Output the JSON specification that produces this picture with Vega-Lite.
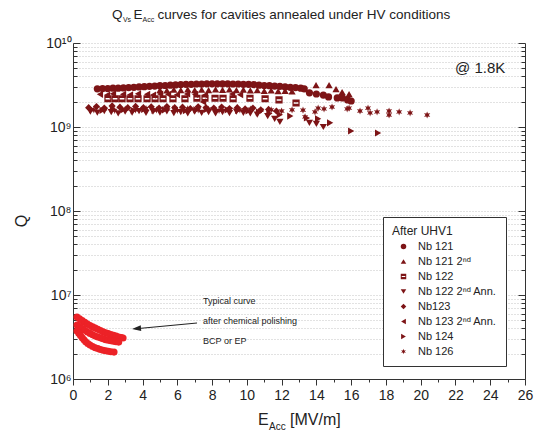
{
  "$schema": "https://vega.github.io/schema/vega-lite/v6.json",
  "width": 452,
  "height": 336,
  "autosize": {"type": "none"},
  "padding": {"left": 73, "top": 43, "right": 9, "bottom": 53},
  "background": "white",
  "config": {
    "view": {"stroke": null},
    "font": "Liberation Sans",
    "axis": {"domainColor": "#333", "tickColor": "#333", "labelColor": "#222", "labelFont": "Liberation Sans", "labelFontSize": 14, "gridColor": "#c4c4c4", "gridDash": [1, 2]}
  },
  "datasets": {
    "cav": [
      {"s":"Nb 121","E":1.4,"Q":2.85e9},{"s":"Nb 121","E":1.7,"Q":2.87e9},{"s":"Nb 121","E":2.0,"Q":2.87e9},{"s":"Nb 121","E":2.3,"Q":2.9e9},{"s":"Nb 121","E":2.6,"Q":2.9e9},{"s":"Nb 121","E":2.9,"Q":2.92e9},{"s":"Nb 121","E":3.2,"Q":2.95e9},{"s":"Nb 121","E":3.5,"Q":2.97e9},{"s":"Nb 121","E":3.8,"Q":3.0e9},{"s":"Nb 121","E":4.1,"Q":3.02e9},{"s":"Nb 121","E":4.4,"Q":3.05e9},{"s":"Nb 121","E":4.7,"Q":3.07e9},{"s":"Nb 121","E":5.0,"Q":3.1e9},{"s":"Nb 121","E":5.3,"Q":3.12e9},{"s":"Nb 121","E":5.6,"Q":3.15e9},{"s":"Nb 121","E":5.9,"Q":3.17e9},{"s":"Nb 121","E":6.2,"Q":3.2e9},{"s":"Nb 121","E":6.5,"Q":3.22e9},{"s":"Nb 121","E":6.8,"Q":3.22e9},{"s":"Nb 121","E":7.1,"Q":3.25e9},{"s":"Nb 121","E":7.4,"Q":3.25e9},{"s":"Nb 121","E":7.7,"Q":3.27e9},{"s":"Nb 121","E":8.0,"Q":3.27e9},{"s":"Nb 121","E":8.3,"Q":3.27e9},{"s":"Nb 121","E":8.6,"Q":3.27e9},{"s":"Nb 121","E":8.9,"Q":3.27e9},{"s":"Nb 121","E":9.2,"Q":3.25e9},{"s":"Nb 121","E":9.5,"Q":3.25e9},{"s":"Nb 121","E":9.8,"Q":3.22e9},{"s":"Nb 121","E":10.1,"Q":3.22e9},{"s":"Nb 121","E":10.4,"Q":3.2e9},{"s":"Nb 121","E":10.7,"Q":3.15e9},{"s":"Nb 121","E":11.0,"Q":3.12e9},{"s":"Nb 121","E":11.3,"Q":3.1e9},{"s":"Nb 121","E":11.6,"Q":3.07e9},{"s":"Nb 121","E":11.9,"Q":3.05e9},{"s":"Nb 121","E":12.2,"Q":3.0e9},{"s":"Nb 121","E":12.5,"Q":2.97e9},{"s":"Nb 121","E":12.8,"Q":2.95e9},{"s":"Nb 121","E":13.1,"Q":2.9e9},{"s":"Nb 121","E":13.3,"Q":2.85e9},{"s":"Nb 121","E":13.6,"Q":2.55e9},{"s":"Nb 121","E":14.0,"Q":2.47e9},{"s":"Nb 121","E":14.4,"Q":2.4e9},{"s":"Nb 121","E":14.7,"Q":2.28e9},{"s":"Nb 121","E":15.2,"Q":2.22e9},{"s":"Nb 121","E":15.5,"Q":2.22e9},{"s":"Nb 121","E":15.8,"Q":2.1e9},{"s":"Nb 121","E":16.0,"Q":2.04e9},
      {"s":"Nb 121 2nd","E":5.0,"Q":2.75e9},{"s":"Nb 121 2nd","E":5.4,"Q":2.72e9},{"s":"Nb 121 2nd","E":5.8,"Q":2.78e9},{"s":"Nb 121 2nd","E":6.2,"Q":2.75e9},{"s":"Nb 121 2nd","E":6.6,"Q":2.8e9},{"s":"Nb 121 2nd","E":7.0,"Q":2.75e9},{"s":"Nb 121 2nd","E":7.4,"Q":2.78e9},{"s":"Nb 121 2nd","E":7.8,"Q":2.74e9},{"s":"Nb 121 2nd","E":8.2,"Q":2.8e9},{"s":"Nb 121 2nd","E":8.6,"Q":2.76e9},{"s":"Nb 121 2nd","E":9.0,"Q":2.8e9},{"s":"Nb 121 2nd","E":9.4,"Q":2.75e9},{"s":"Nb 121 2nd","E":9.8,"Q":2.78e9},{"s":"Nb 121 2nd","E":10.2,"Q":2.72e9},{"s":"Nb 121 2nd","E":10.6,"Q":2.75e9},{"s":"Nb 121 2nd","E":11.0,"Q":2.7e9},{"s":"Nb 121 2nd","E":11.4,"Q":2.72e9},{"s":"Nb 121 2nd","E":11.8,"Q":2.68e9},{"s":"Nb 121 2nd","E":12.2,"Q":2.7e9},{"s":"Nb 121 2nd","E":12.6,"Q":2.65e9},{"s":"Nb 121 2nd","E":13.98,"Q":3.16e9},{"s":"Nb 121 2nd","E":14.73,"Q":3.16e9},{"s":"Nb 121 2nd","E":15.13,"Q":2.83e9},{"s":"Nb 121 2nd","E":15.48,"Q":2.61e9},{"s":"Nb 121 2nd","E":15.88,"Q":2.47e9},
      {"s":"Nb 122","E":2.01,"Q":2.17e9},{"s":"Nb 122","E":2.42,"Q":2.17e9},{"s":"Nb 122","E":2.82,"Q":2.17e9},{"s":"Nb 122","E":3.28,"Q":2.17e9},{"s":"Nb 122","E":3.74,"Q":2.17e9},{"s":"Nb 122","E":4.26,"Q":2.17e9},{"s":"Nb 122","E":4.72,"Q":2.17e9},{"s":"Nb 122","E":5.18,"Q":2.17e9},{"s":"Nb 122","E":5.75,"Q":2.17e9},{"s":"Nb 122","E":6.44,"Q":2.17e9},{"s":"Nb 122","E":7.13,"Q":2.2e9},{"s":"Nb 122","E":7.59,"Q":2.2e9},{"s":"Nb 122","E":8.17,"Q":2.2e9},{"s":"Nb 122","E":8.63,"Q":2.2e9},{"s":"Nb 122","E":9.21,"Q":2.17e9},{"s":"Nb 122","E":10.18,"Q":2.2e9},{"s":"Nb 122","E":11.05,"Q":2.17e9},{"s":"Nb 122","E":11.85,"Q":2.1e9},{"s":"Nb 122","E":12.83,"Q":1.93e9},
      {"s":"Nb 122 2nd Ann.","E":1.0,"Q":1.52e9},{"s":"Nb 122 2nd Ann.","E":1.4,"Q":1.48e9},{"s":"Nb 122 2nd Ann.","E":1.8,"Q":1.55e9},{"s":"Nb 122 2nd Ann.","E":2.2,"Q":1.5e9},{"s":"Nb 122 2nd Ann.","E":2.6,"Q":1.45e9},{"s":"Nb 122 2nd Ann.","E":3.0,"Q":1.52e9},{"s":"Nb 122 2nd Ann.","E":3.4,"Q":1.48e9},{"s":"Nb 122 2nd Ann.","E":3.8,"Q":1.55e9},{"s":"Nb 122 2nd Ann.","E":4.2,"Q":1.47e9},{"s":"Nb 122 2nd Ann.","E":4.6,"Q":1.52e9},{"s":"Nb 122 2nd Ann.","E":5.0,"Q":1.48e9},{"s":"Nb 122 2nd Ann.","E":5.4,"Q":1.53e9},{"s":"Nb 122 2nd Ann.","E":5.8,"Q":1.46e9},{"s":"Nb 122 2nd Ann.","E":6.2,"Q":1.5e9},{"s":"Nb 122 2nd Ann.","E":6.6,"Q":1.45e9},{"s":"Nb 122 2nd Ann.","E":7.0,"Q":1.52e9},{"s":"Nb 122 2nd Ann.","E":7.4,"Q":1.47e9},{"s":"Nb 122 2nd Ann.","E":7.8,"Q":1.5e9},{"s":"Nb 122 2nd Ann.","E":8.2,"Q":1.45e9},{"s":"Nb 122 2nd Ann.","E":8.6,"Q":1.5e9},{"s":"Nb 122 2nd Ann.","E":9.0,"Q":1.46e9},{"s":"Nb 122 2nd Ann.","E":9.4,"Q":1.52e9},{"s":"Nb 122 2nd Ann.","E":9.8,"Q":1.47e9},{"s":"Nb 122 2nd Ann.","E":10.2,"Q":1.45e9},{"s":"Nb 122 2nd Ann.","E":10.6,"Q":1.4e9},{"s":"Nb 122 2nd Ann.","E":11.2,"Q":1.35e9},{"s":"Nb 122 2nd Ann.","E":11.6,"Q":1.25e9},{"s":"Nb 122 2nd Ann.","E":11.9,"Q":1.15e9},{"s":"Nb 122 2nd Ann.","E":13.6,"Q":1.12e9},{"s":"Nb 122 2nd Ann.","E":14.0,"Q":1.09e9},{"s":"Nb 122 2nd Ann.","E":14.4,"Q":1.0e9},
      {"s":"Nb123","E":0.9,"Q":1.7e9},{"s":"Nb123","E":1.35,"Q":1.75e9},{"s":"Nb123","E":1.8,"Q":1.68e9},{"s":"Nb123","E":2.25,"Q":1.78e9},{"s":"Nb123","E":2.7,"Q":1.72e9},{"s":"Nb123","E":3.15,"Q":1.7e9},{"s":"Nb123","E":3.6,"Q":1.76e9},{"s":"Nb123","E":4.05,"Q":1.7e9},{"s":"Nb123","E":4.5,"Q":1.74e9},{"s":"Nb123","E":4.95,"Q":1.68e9},{"s":"Nb123","E":5.4,"Q":1.75e9},{"s":"Nb123","E":5.85,"Q":1.7e9},{"s":"Nb123","E":6.3,"Q":1.72e9},{"s":"Nb123","E":6.75,"Q":1.66e9},{"s":"Nb123","E":7.2,"Q":1.74e9},{"s":"Nb123","E":7.65,"Q":1.7e9},{"s":"Nb123","E":8.1,"Q":1.68e9},{"s":"Nb123","E":8.55,"Q":1.73e9},{"s":"Nb123","E":9.0,"Q":1.66e9},{"s":"Nb123","E":9.45,"Q":1.7e9},{"s":"Nb123","E":9.9,"Q":1.64e9},{"s":"Nb123","E":10.35,"Q":1.68e9},{"s":"Nb123","E":10.8,"Q":1.6e9},{"s":"Nb123","E":11.25,"Q":1.62e9},{"s":"Nb123","E":11.7,"Q":1.55e9},
      {"s":"Nb 123 2nd Ann.","E":1.55,"Q":2.45e9},{"s":"Nb 123 2nd Ann.","E":1.96,"Q":2.4e9},{"s":"Nb 123 2nd Ann.","E":2.3,"Q":2.48e9},{"s":"Nb 123 2nd Ann.","E":2.88,"Q":2.45e9},{"s":"Nb 123 2nd Ann.","E":3.28,"Q":2.42e9},{"s":"Nb 123 2nd Ann.","E":3.74,"Q":2.48e9},{"s":"Nb 123 2nd Ann.","E":4.26,"Q":2.45e9},{"s":"Nb 123 2nd Ann.","E":4.6,"Q":2.4e9},{"s":"Nb 123 2nd Ann.","E":5.01,"Q":2.47e9},{"s":"Nb 123 2nd Ann.","E":5.47,"Q":2.45e9},{"s":"Nb 123 2nd Ann.","E":5.98,"Q":2.42e9},{"s":"Nb 123 2nd Ann.","E":6.56,"Q":2.47e9},{"s":"Nb 123 2nd Ann.","E":7.02,"Q":2.45e9},{"s":"Nb 123 2nd Ann.","E":7.48,"Q":1.99e9},{"s":"Nb 123 2nd Ann.","E":7.59,"Q":2.4e9},{"s":"Nb 123 2nd Ann.","E":9.15,"Q":2.47e9},{"s":"Nb 123 2nd Ann.","E":9.61,"Q":2.42e9},
      {"s":"Nb 124","E":1.1,"Q":1.62e9},{"s":"Nb 124","E":1.7,"Q":1.58e9},{"s":"Nb 124","E":2.3,"Q":1.63e9},{"s":"Nb 124","E":2.9,"Q":1.6e9},{"s":"Nb 124","E":3.5,"Q":1.57e9},{"s":"Nb 124","E":4.1,"Q":1.62e9},{"s":"Nb 124","E":4.7,"Q":1.58e9},{"s":"Nb 124","E":5.3,"Q":1.6e9},{"s":"Nb 124","E":5.9,"Q":1.63e9},{"s":"Nb 124","E":6.5,"Q":1.57e9},{"s":"Nb 124","E":7.1,"Q":1.6e9},{"s":"Nb 124","E":7.7,"Q":1.62e9},{"s":"Nb 124","E":8.3,"Q":1.56e9},{"s":"Nb 124","E":8.9,"Q":1.6e9},{"s":"Nb 124","E":9.5,"Q":1.58e9},{"s":"Nb 124","E":10.1,"Q":1.55e9},{"s":"Nb 124","E":10.7,"Q":1.5e9},{"s":"Nb 124","E":11.3,"Q":1.45e9},{"s":"Nb 124","E":11.9,"Q":1.4e9},{"s":"Nb 124","E":12.5,"Q":1.35e9},{"s":"Nb 124","E":13.46,"Q":1.28e9},{"s":"Nb 124","E":14.1,"Q":1.25e9},{"s":"Nb 124","E":14.79,"Q":1.12e9},{"s":"Nb 124","E":16.0,"Q":8.96e8},{"s":"Nb 124","E":17.55,"Q":8.48e8},
      {"s":"Nb 126","E":1.2,"Q":1.6e9},{"s":"Nb 126","E":1.8,"Q":1.65e9},{"s":"Nb 126","E":2.4,"Q":1.58e9},{"s":"Nb 126","E":3.0,"Q":1.63e9},{"s":"Nb 126","E":3.6,"Q":1.6e9},{"s":"Nb 126","E":4.2,"Q":1.66e9},{"s":"Nb 126","E":4.8,"Q":1.6e9},{"s":"Nb 126","E":5.4,"Q":1.63e9},{"s":"Nb 126","E":6.0,"Q":1.58e9},{"s":"Nb 126","E":6.6,"Q":1.65e9},{"s":"Nb 126","E":7.2,"Q":1.6e9},{"s":"Nb 126","E":7.8,"Q":1.63e9},{"s":"Nb 126","E":8.4,"Q":1.58e9},{"s":"Nb 126","E":9.0,"Q":1.62e9},{"s":"Nb 126","E":9.6,"Q":1.6e9},{"s":"Nb 126","E":10.2,"Q":1.63e9},{"s":"Nb 126","E":10.8,"Q":1.58e9},{"s":"Nb 126","E":11.4,"Q":1.6e9},{"s":"Nb 126","E":12.0,"Q":1.55e9},{"s":"Nb 126","E":12.6,"Q":1.6e9},{"s":"Nb 126","E":13.23,"Q":1.59e9},{"s":"Nb 126","E":13.35,"Q":1.32e9},{"s":"Nb 126","E":13.92,"Q":1.51e9},{"s":"Nb 126","E":14.1,"Q":1.68e9},{"s":"Nb 126","E":14.44,"Q":1.64e9},{"s":"Nb 126","E":14.9,"Q":1.73e9},{"s":"Nb 126","E":15.77,"Q":1.64e9},{"s":"Nb 126","E":15.88,"Q":1.68e9},{"s":"Nb 126","E":16.51,"Q":1.55e9},{"s":"Nb 126","E":16.97,"Q":1.68e9},{"s":"Nb 126","E":17.09,"Q":1.47e9},{"s":"Nb 126","E":17.49,"Q":1.51e9},{"s":"Nb 126","E":18.18,"Q":1.55e9},{"s":"Nb 126","E":18.18,"Q":1.39e9},{"s":"Nb 126","E":18.76,"Q":1.51e9},{"s":"Nb 126","E":19.39,"Q":1.47e9},{"s":"Nb 126","E":20.37,"Q":1.39e9}
    ],
    "typ": [
      {"E":0.23,"Q":5.47e6},{"E":0.38,"Q":5.2e6},{"E":0.53,"Q":4.95e6},{"E":0.68,"Q":4.72e6},{"E":0.83,"Q":4.52e6},{"E":0.98,"Q":4.33e6},{"E":1.13,"Q":4.17e6},{"E":1.28,"Q":4.03e6},{"E":1.43,"Q":3.9e6},{"E":1.58,"Q":3.77e6},{"E":1.73,"Q":3.65e6},{"E":1.88,"Q":3.56e6},{"E":2.03,"Q":3.47e6},{"E":2.18,"Q":3.39e6},{"E":2.33,"Q":3.31e6},{"E":2.48,"Q":3.24e6},{"E":2.63,"Q":3.17e6},{"E":2.78,"Q":3.11e6},{"E":2.88,"Q":3.08e6},
      {"E":0.23,"Q":4.39e6},{"E":0.38,"Q":4.18e6},{"E":0.53,"Q":3.98e6},{"E":0.68,"Q":3.8e6},{"E":0.83,"Q":3.63e6},{"E":0.98,"Q":3.49e6},{"E":1.13,"Q":3.36e6},{"E":1.28,"Q":3.25e6},{"E":1.43,"Q":3.17e6},{"E":1.58,"Q":3.09e6},{"E":1.73,"Q":3.01e6},{"E":1.88,"Q":2.94e6},{"E":2.03,"Q":2.89e6},{"E":2.18,"Q":2.85e6},{"E":2.33,"Q":2.82e6},{"E":2.48,"Q":2.78e6},{"E":2.63,"Q":2.75e6},
      {"E":0.23,"Q":3.73e6},{"E":0.33,"Q":3.5e6},{"E":0.43,"Q":3.3e6},{"E":0.53,"Q":3.1e6},{"E":0.63,"Q":2.93e6},{"E":0.73,"Q":2.78e6},{"E":0.85,"Q":2.64e6},{"E":0.98,"Q":2.54e6},{"E":1.13,"Q":2.44e6},{"E":1.28,"Q":2.36e6},{"E":1.43,"Q":2.3e6},{"E":1.58,"Q":2.25e6},{"E":1.73,"Q":2.2e6},{"E":1.88,"Q":2.17e6},{"E":2.03,"Q":2.14e6},{"E":2.18,"Q":2.11e6},{"E":2.36,"Q":2.09e6}
    ]
  },
  "layer": [
    {
      "data": {"name": "cav"},
      "mark": {"type": "point", "filled": true, "opacity": 1, "size": 52, "color": "#7d1416"},
      "encoding": {
        "x": {"field": "E", "type": "quantitative", "scale": {"domain": [0, 26], "nice": false},
          "axis": {"orient": "bottom", "values": [0,1,2,3,4,5,6,7,8,9,10,11,12,13,14,15,16,17,18,19,20,21,22,23,24,25,26], "labelExpr": "datum.value % 2 == 0 ? datum.label : ''", "tickSize": {"condition": {"test": "datum.value % 2 == 0", "value": 6}, "value": 3}, "labelPadding": 3, "grid": false, "title": null, "labelFlush": false, "labelOverlap": false}},
        "y": {"field": "Q", "type": "quantitative", "scale": {"type": "log", "domain": [1e6, 1e10], "nice": false},
          "axis": {"orient": "left", "values": [1e6,2e6,3e6,4e6,5e6,6e6,7e6,8e6,9e6,1e7,2e7,3e7,4e7,5e7,6e7,7e7,8e7,9e7,1e8,2e8,3e8,4e8,5e8,6e8,7e8,8e8,9e8,1e9,2e9,3e9,4e9,5e9,6e9,7e9,8e9,9e9,1e10],
            "labelExpr": "abs(log(datum.value)/LN10 - round(log(datum.value)/LN10)) < 0.01 ? '10' + ['⁶','⁷','⁸','⁹','¹⁰'][round(log(datum.value)/LN10) - 6] : ''",
            "tickSize": {"condition": {"test": "abs(log(datum.value)/LN10 - round(log(datum.value)/LN10)) < 0.01", "value": -7}, "value": -4},
            "labelPadding": 9, "grid": true, "title": null, "labelOverlap": false, "labelFlush": false}},
        "shape": {"field": "s", "type": "nominal",
          "scale": {"domain": ["Nb 121", "Nb 121 2nd", "Nb 122", "Nb 122 2nd Ann.", "Nb123", "Nb 123 2nd Ann.", "Nb 124", "Nb 126"],
            "range": ["circle", "triangle-up", "M-1,-1H1V1H-1Z M-0.65,-0.22V0.22H0.65V-0.22Z", "triangle-down", "diamond", "triangle-left", "triangle-right", "M0,-1L0.225,-0.39L0.866,-0.5L0.45,0L0.866,0.5L0.225,0.39L0,1L-0.225,0.39L-0.866,0.5L-0.45,0L-0.866,-0.5L-0.225,-0.39Z"]},
          "legend": {"orient": "none", "legendX": 310, "legendY": 174, "title": "After UHV1", "titleFont": "Liberation Sans", "titleFontSize": 12, "titleFontWeight": "normal", "titleColor": "#222", "titlePadding": 3,
            "labelFont": "Liberation Sans", "labelFontSize": 11, "labelColor": "#222", "labelExpr": "replace(datum.label, '2nd', '2ⁿᵈ')",
            "strokeColor": "#333", "fillColor": "white", "padding": 9, "symbolSize": 30, "symbolFillColor": "#7d1416", "symbolStrokeColor": "#7d1416", "symbolStrokeWidth": 0, "rowPadding": 3, "symbolOffset": 6, "labelOffset": 9}}
      }
    },
    {
      "data": {"values": [{"Q": 1e6}, {"Q": 1e10}]},
      "mark": {"type": "point", "opacity": 0},
      "encoding": {
        "y": {"field": "Q", "type": "quantitative", "scale": {"type": "log", "domain": [1e6, 1e10], "nice": false},
          "axis": {"orient": "right", "values": [1e6,2e6,3e6,4e6,5e6,6e6,7e6,8e6,9e6,1e7,2e7,3e7,4e7,5e7,6e7,7e7,8e7,9e7,1e8,2e8,3e8,4e8,5e8,6e8,7e8,8e8,9e8,1e9,2e9,3e9,4e9,5e9,6e9,7e9,8e9,9e9,1e10],
            "labels": false, "title": null, "grid": false,
            "tickSize": {"condition": {"test": "abs(log(datum.value)/LN10 - round(log(datum.value)/LN10)) < 0.01", "value": -7}, "value": -4}}}
      }
    },
    {
      "data": {"name": "typ"},
      "mark": {"type": "circle", "size": 50, "opacity": 1, "color": "#ec2227"},
      "encoding": {
        "x": {"field": "E", "type": "quantitative", "scale": {"domain": [0, 26], "nice": false}, "axis": null},
        "y": {"field": "Q", "type": "quantitative", "scale": {"type": "log", "domain": [1e6, 1e10], "nice": false}, "axis": null}
      }
    },
    {
      "data": {"values": [{"E": 7.135, "Q": 4.64e6, "E2": 3.6, "Q2": 3.96e6}]},
      "mark": {"type": "rule", "color": "#222", "strokeWidth": 1},
      "encoding": {
        "x": {"field": "E", "type": "quantitative", "scale": {"domain": [0, 26], "nice": false}, "axis": null},
        "y": {"field": "Q", "type": "quantitative", "scale": {"type": "log", "domain": [1e6, 1e10], "nice": false}, "axis": null},
        "x2": {"field": "E2"},
        "y2": {"field": "Q2"}
      }
    },
    {
      "data": {"values": [{"E": 3.395, "Q": 3.94e6}]},
      "mark": {"type": "point", "shape": "M0,0L1,-0.32L1,0.32Z", "size": 324, "angle": 354.7, "filled": true, "opacity": 1, "color": "#222"},
      "encoding": {
        "x": {"field": "E", "type": "quantitative", "scale": {"domain": [0, 26], "nice": false}, "axis": null},
        "y": {"field": "Q", "type": "quantitative", "scale": {"type": "log", "domain": [1e6, 1e10], "nice": false}, "axis": null}
      }
    },
    {
      "data": {"values": [{"t": "Typical curve", "E": 7.48, "Q": 7.82e6}, {"t": "after chemical polishing", "E": 7.48, "Q": 4.52e6}, {"t": "BCP or EP", "E": 7.48, "Q": 2.61e6}]},
      "mark": {"type": "text", "align": "left", "baseline": "alphabetic", "fontSize": 9, "font": "Liberation Sans", "color": "#222"},
      "encoding": {
        "x": {"field": "E", "type": "quantitative", "scale": {"domain": [0, 26], "nice": false}, "axis": null},
        "y": {"field": "Q", "type": "quantitative", "scale": {"type": "log", "domain": [1e6, 1e10], "nice": false}, "axis": null},
        "text": {"field": "t"}
      }
    },
    {
      "data": {"values": [{"t": "@ 1.8K", "E": 21.98, "Q": 4.4e9}]},
      "mark": {"type": "text", "align": "left", "baseline": "alphabetic", "fontSize": 15, "font": "Liberation Sans", "color": "#222"},
      "encoding": {
        "x": {"field": "E", "type": "quantitative", "scale": {"domain": [0, 26], "nice": false}, "axis": null},
        "y": {"field": "Q", "type": "quantitative", "scale": {"type": "log", "domain": [1e6, 1e10], "nice": false}, "axis": null},
        "text": {"field": "t"}
      }
    },
    {
      "data": {"values": [{"t": "Q", "E": 2.244, "Q": 1.931e10}, {"t": "E", "E": 3.48, "Q": 1.931e10}, {"t": "curves for cavities annealed under HV conditions", "E": 4.86, "Q": 1.931e10}]},
      "mark": {"type": "text", "align": "left", "baseline": "alphabetic", "fontSize": 13.5, "font": "Liberation Sans", "color": "#222"},
      "encoding": {
        "x": {"field": "E", "type": "quantitative", "scale": {"domain": [0, 26], "nice": false}, "axis": null},
        "y": {"field": "Q", "type": "quantitative", "scale": {"type": "log", "domain": [1e6, 1e10], "nice": false}, "axis": null},
        "text": {"field": "t"}
      }
    },
    {
      "data": {"values": [{"t": "Vs", "E": 2.87, "Q": 1.778e10}, {"t": "Acc", "E": 4.0, "Q": 1.778e10}]},
      "mark": {"type": "text", "align": "left", "baseline": "alphabetic", "fontSize": 7, "font": "Liberation Sans", "color": "#222"},
      "encoding": {
        "x": {"field": "E", "type": "quantitative", "scale": {"domain": [0, 26], "nice": false}, "axis": null},
        "y": {"field": "Q", "type": "quantitative", "scale": {"type": "log", "domain": [1e6, 1e10], "nice": false}, "axis": null},
        "text": {"field": "t"}
      }
    },
    {
      "data": {"values": [{"t": "E", "E": 10.644, "Q": 2.83e5}, {"t": "[MV/m]", "E": 12.486, "Q": 2.83e5}]},
      "mark": {"type": "text", "align": "left", "baseline": "alphabetic", "fontSize": 16, "font": "Liberation Sans", "color": "#222"},
      "encoding": {
        "x": {"field": "E", "type": "quantitative", "scale": {"domain": [0, 26], "nice": false}, "axis": null},
        "y": {"field": "Q", "type": "quantitative", "scale": {"type": "log", "domain": [1e6, 1e10], "nice": false}, "axis": null},
        "text": {"field": "t"}
      }
    },
    {
      "data": {"values": [{"t": "Acc", "E": 11.277, "Q": 2.47e5}]},
      "mark": {"type": "text", "align": "left", "baseline": "alphabetic", "fontSize": 10, "font": "Liberation Sans", "color": "#222"},
      "encoding": {
        "x": {"field": "E", "type": "quantitative", "scale": {"domain": [0, 26], "nice": false}, "axis": null},
        "y": {"field": "Q", "type": "quantitative", "scale": {"type": "log", "domain": [1e6, 1e10], "nice": false}, "axis": null},
        "text": {"field": "t"}
      }
    },
    {
      "data": {"values": [{"t": "Q", "E": -2.647, "Q": 7.6e7}]},
      "mark": {"type": "text", "align": "center", "baseline": "alphabetic", "angle": 270, "fontSize": 16, "font": "Liberation Sans", "color": "#222"},
      "encoding": {
        "x": {"field": "E", "type": "quantitative", "scale": {"domain": [0, 26], "nice": false}, "axis": null},
        "y": {"field": "Q", "type": "quantitative", "scale": {"type": "log", "domain": [1e6, 1e10], "nice": false}, "axis": null},
        "text": {"field": "t"}
      }
    }
  ],
  "resolve": {"axis": {"x": "independent", "y": "independent"}}
}
